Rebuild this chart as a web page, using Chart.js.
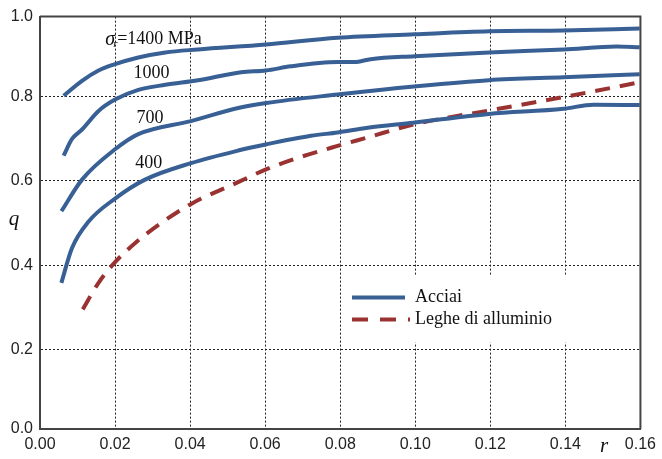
<!DOCTYPE html>
<html>
<head>
<meta charset="utf-8">
<script src="https://cdn.jsdelivr.net/npm/chart.js@4.4.0/dist/chart.umd.min.js"></script>
<style>
html, body { margin: 0; padding: 0; background: #fff; }
#wrap { width: 662px; height: 459px; position: relative; }
</style>
</head>
<body>
<div id="wrap"><canvas id="myChart"></canvas></div>
<script>
// curve data (r, q)
var r1400 = [0.0063, 0.0111, 0.0156, 0.0196, 0.0262, 0.0334, 0.0421, 0.0602, 0.0793, 0.0998, 0.1197, 0.1396, 0.1598];
var q1400 = [0.802, 0.837, 0.862, 0.876, 0.893, 0.905, 0.912, 0.924, 0.940, 0.948, 0.955, 0.957, 0.962];

var r1000 = [0.0063, 0.0085, 0.0112, 0.0156, 0.0200, 0.0262, 0.0334, 0.0421, 0.0536, 0.0602, 0.0668, 0.0793, 0.0838, 0.0881, 0.0998, 0.1197, 0.1396, 0.1537, 0.1598];
var q1000 = [0.660, 0.699, 0.722, 0.766, 0.793, 0.816, 0.828, 0.839, 0.858, 0.862, 0.872, 0.882, 0.882, 0.889, 0.896, 0.905, 0.912, 0.919, 0.917];

var r700 = [0.0057, 0.0112, 0.0200, 0.0262, 0.0402, 0.0528, 0.0603, 0.0793, 0.0997, 0.1196, 0.1395, 0.1598];
var q700 = [0.528, 0.603, 0.675, 0.711, 0.742, 0.773, 0.785, 0.805, 0.824, 0.839, 0.846, 0.853];

var r400 = [0.0057, 0.0085, 0.0129, 0.0200, 0.0280, 0.0402, 0.0528, 0.0604, 0.0722, 0.0793, 0.0873, 0.0995, 0.1196, 0.1395, 0.1475, 0.1598];
var q400 = [0.358, 0.440, 0.503, 0.558, 0.603, 0.642, 0.672, 0.687, 0.707, 0.715, 0.726, 0.738, 0.759, 0.771, 0.781, 0.780];

var rAlu = [0.0114, 0.0156, 0.0200, 0.0253, 0.0315, 0.0404, 0.0528, 0.0604, 0.0678, 0.0793, 0.0873, 0.0995, 0.1196, 0.1395, 0.1598];
var qAlu = [0.295, 0.358, 0.407, 0.452, 0.495, 0.546, 0.597, 0.628, 0.652, 0.683, 0.703, 0.734, 0.767, 0.799, 0.834];

var yTickValues = [0.011, 0.2, 0.4, 0.6, 0.8, 0.99];
var yTickLabels = ['0.0', '0.2', '0.4', '0.6', '0.8', '1.0'];
var legendLabels = ['Acciai', 'Leghe di alluminio'];

var curveLabels = [
    { text: '1000', r: 0.0249, q: 0.856 },
    { text: '700', r: 0.0257, q: 0.748 },
    { text: '400', r: 0.0254, q: 0.642 }
];

var blue = '#386094';
var red = '#9a3232';
var serif = '"Liberation Serif", "Times New Roman", serif';
var sans = '"Liberation Sans", Arial, Helvetica, sans-serif';

function pts(xs, ys) {
    return xs.map(function (x, i) { return { x: x, y: ys[i] }; });
}

function steel(xs, ys) {
    return { data: pts(xs, ys), borderColor: blue, borderWidth: 4, pointRadius: 0, cubicInterpolationMode: 'monotone', fill: false };
}

var decorPlugin = {
    id: 'decor',
    beforeDatasetsDraw: function (chart) {
        var ctx = chart.ctx, a = chart.chartArea;
        // legend box sitting on top of the grid
        ctx.save();
        ctx.fillStyle = '#fff';
        ctx.fillRect(a.left + 305, a.top + 259, 297, 67);
        ctx.lineCap = 'butt';
        ctx.lineWidth = 4;
        ctx.strokeStyle = blue;
        ctx.beginPath();
        ctx.moveTo(a.left + 312, a.top + 281);
        ctx.lineTo(a.left + 365, a.top + 281);
        ctx.stroke();
        ctx.strokeStyle = red;
        ctx.setLineDash([16, 12]);
        ctx.beginPath();
        ctx.moveTo(a.left + 312, a.top + 303);
        ctx.lineTo(a.left + 370, a.top + 303);
        ctx.stroke();
        ctx.setLineDash([]);
        ctx.fillStyle = '#111';
        ctx.font = '18px ' + serif;
        ctx.textBaseline = 'middle';
        ctx.fillText(legendLabels[0], a.left + 375, a.top + 281);
        ctx.fillText(legendLabels[1], a.left + 375, a.top + 303);
        ctx.restore();
    },
    afterDraw: function (chart) {
        var ctx = chart.ctx, a = chart.chartArea;
        var xs = chart.scales.x, ys = chart.scales.y;
        ctx.save();
        // frame top / right
        ctx.strokeStyle = '#444';
        ctx.lineWidth = 2;
        ctx.beginPath();
        ctx.moveTo(a.left, a.top);
        ctx.lineTo(a.right, a.top);
        ctx.lineTo(a.right, a.bottom);
        ctx.stroke();

        ctx.fillStyle = '#111';
        ctx.textBaseline = 'middle';
        ctx.font = '18px ' + serif;
        curveLabels.forEach(function (l) {
            ctx.fillText(l.text, xs.getPixelForValue(l.r), ys.getPixelForValue(l.q));
        });

        // sigma_r = 1400 MPa
        var x0 = xs.getPixelForValue(0.0174), y0 = ys.getPixelForValue(0.936);
        ctx.font = 'italic 20px ' + serif;
        ctx.fillText('\u03c3', x0, y0);
        var w = ctx.measureText('\u03c3').width;
        ctx.font = 'italic 11px ' + serif;
        ctx.fillText('r', x0 + w - 2, y0 + 5);
        ctx.font = '18px ' + serif;
        ctx.fillText('=1400 MPa', x0 + w + 2, y0);

        // axis titles
        ctx.font = 'italic 21px ' + serif;
        ctx.textAlign = 'center';
        ctx.fillText('q', 14, 219);
        ctx.fillText('r', 604, 446);
        ctx.restore();
    }
};

var ctx = document.getElementById('myChart').getContext('2d');

var myChart = new Chart(ctx, {
    type: 'line',
    data: {
        datasets: [
            steel(r1400, q1400),
            steel(r1000, q1000),
            steel(r700, q700),
            steel(r400, q400),
            {
                data: pts(rAlu, qAlu),
                borderColor: red,
                borderWidth: 4,
                borderDash: [15, 10],
                pointRadius: 0,
                cubicInterpolationMode: 'monotone',
                fill: false
            }
        ]
    },
    options: {
        responsive: true,
        maintainAspectRatio: false,
        animation: false,
        layout: { padding: { top: 13, right: 18, left: 0, bottom: 0 } },
        plugins: { legend: { display: false }, tooltip: { enabled: false } },
        scales: {
            x: {
                type: 'linear',
                min: 0,
                max: 0.16,
                afterFit: function (s) { s.height = 30; },
                ticks: {
                    stepSize: 0.02,
                    padding: 6,
                    color: '#222',
                    font: { family: sans, size: 16 },
                    maxRotation: 0,
                    callback: function (v) { return v.toFixed(2); }
                },
                grid: { color: '#222', lineWidth: 1, drawTicks: false },
                border: { display: true, color: '#444', width: 2, dash: [2, 2] }
            },
            y: {
                type: 'linear',
                min: 0.011,
                max: 0.99,
                afterFit: function (s) { s.width = 40; },
                afterBuildTicks: function (s) {
                    s.ticks = yTickValues.map(function (v) { return { value: v }; });
                },
                ticks: {
                    padding: 7,
                    color: '#222',
                    font: { family: sans, size: 16 },
                    callback: function (v, i) { return yTickLabels[i]; }
                },
                grid: { color: '#222', lineWidth: 1, drawTicks: false },
                border: { display: true, color: '#444', width: 2, dash: [2, 2] }
            }
        }
    },
    plugins: [decorPlugin]
});
</script>
</body>
</html>
